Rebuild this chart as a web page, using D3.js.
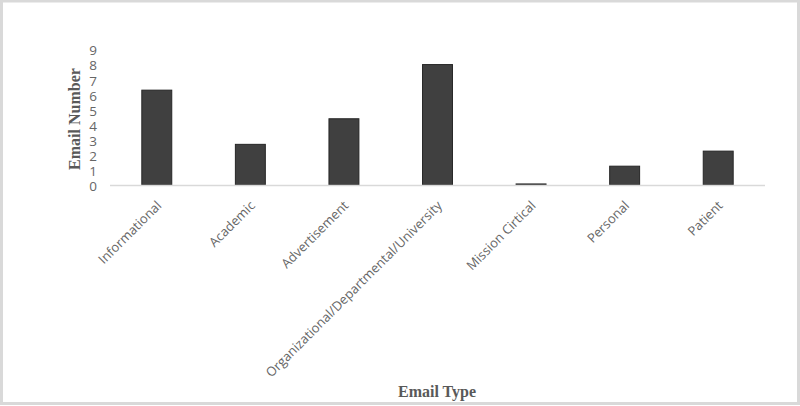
<!DOCTYPE html>
<html>
<head>
<meta charset="utf-8">
<script src="https://cdn.jsdelivr.net/npm/d3@7"></script>
<style>
  body { margin: 0; background: #fff; }
  svg { display: block; }
</style>
</head>
<body>
<script>
var categories = ["Informational", "Academic", "Advertisement",
    "Organizational/Departmental/University", "Mission Cirtical", "Personal", "Patient"];
var emailCounts = [6.3, 2.7, 4.4, 8.0, 0.07, 1.25, 2.25];
var yTicks = [0, 1, 2, 3, 4, 5, 6, 7, 8, 9];

var W = 800, H = 406;
var margin = {top: 49.5, right: 35, bottom: 221, left: 110},
    width = W - margin.left - margin.right,
    height = H - margin.top - margin.bottom;

var root = d3.select("body").append("svg")
    .attr("width", W)
    .attr("height", H);

// outer frame
root.append("rect")
    .attr("x", 1.5).attr("y", 1)
    .attr("width", W - 3).attr("height", H - 3.5)
    .attr("fill", "#fff")
    .attr("stroke", "#d9d9d9")
    .attr("stroke-width", 3);

var svg = root.append("g")
    .attr("transform", "translate(" + margin.left + "," + margin.top + ")");

var x = d3.scaleBand().domain(categories).range([0, width]).paddingInner(0.68).paddingOuter(0.34);
var y = d3.scaleLinear().domain([0, 9]).range([height, 0]);

// y axis labels (no line)
var yAxis = svg.append("g")
    .call(d3.axisLeft(y).tickValues(yTicks).tickSize(0).tickPadding(13))
    .style("font-family", "'Open Sans', sans-serif")
    .style("font-size", "13.5px");
yAxis.select(".domain").remove();
yAxis.selectAll("text").attr("fill", "#666").attr("dy", "0.4em");

// bars
svg.selectAll("rect.bar")
    .data(emailCounts)
  .enter().append("rect")
    .attr("class", "bar")
    .attr("x", function(d, i) { return x(categories[i]); })
    .attr("y", function(d) { return y(d); })
    .attr("width", x.bandwidth())
    .attr("height", function(d) { return height - y(d); })
    .attr("fill", "#404040")
    .attr("stroke", "#262626")
    .attr("stroke-width", 1);

// baseline
svg.append("line")
    .attr("x1", 0).attr("x2", width)
    .attr("y1", y(0) + 0.5).attr("y2", y(0) + 0.5)
    .attr("stroke", "#d9d9d9")
    .attr("stroke-width", 1.5);

// category labels
svg.selectAll("text.cat")
    .data(categories)
  .enter().append("text")
    .attr("class", "cat")
    .attr("transform", function(d) {
        return "translate(" + (x(d) + x.bandwidth() / 2 - 1) + "," + (height + 15) + ") rotate(-45)";
    })
    .attr("text-anchor", "end")
    .attr("dy", "0.7em")
    .attr("fill", "#666")
    .style("font-family", "'Open Sans', sans-serif")
    .style("font-size", "13px")
    .text(function(d) { return d; });

// axis titles
root.append("text")
    .attr("transform", "translate(80,119) rotate(-90)")
    .attr("text-anchor", "middle")
    .attr("fill", "#595959")
    .style("font-family", "'Liberation Serif', 'Times New Roman', serif")
    .style("font-weight", "bold")
    .style("font-size", "16px")
    .text("Email Number");

root.append("text")
    .attr("x", 437).attr("y", 397)
    .attr("text-anchor", "middle")
    .attr("fill", "#595959")
    .style("font-family", "'Liberation Serif', 'Times New Roman', serif")
    .style("font-weight", "bold")
    .style("font-size", "16px")
    .text("Email Type");
</script>
</body>
</html>
